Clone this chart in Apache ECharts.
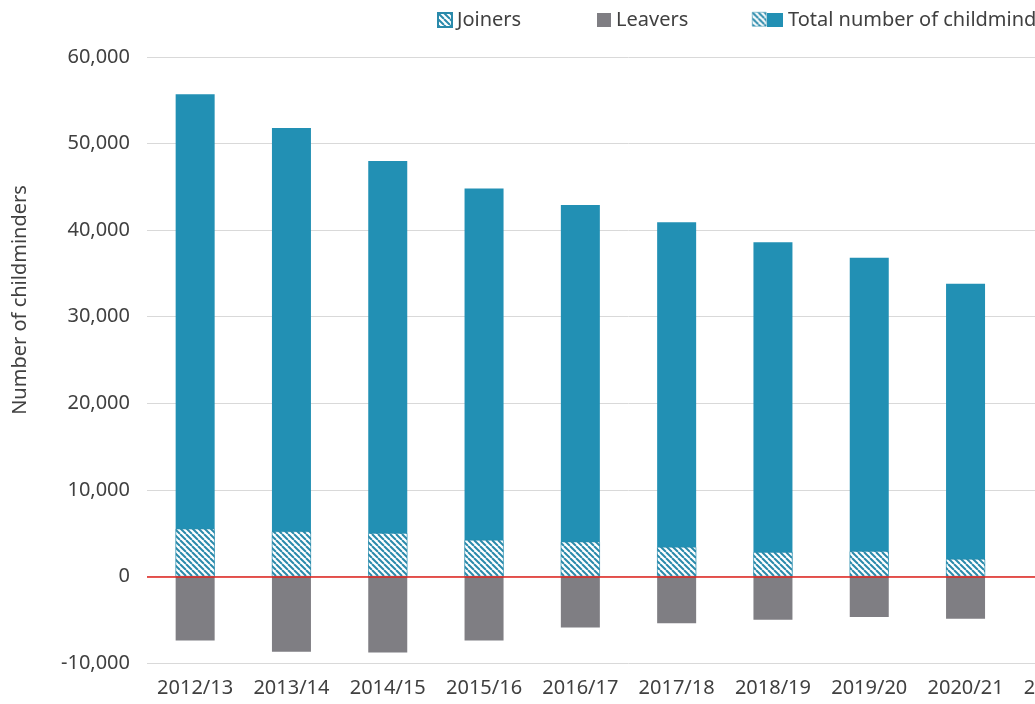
<!DOCTYPE html>
<html>
<head>
<meta charset="utf-8">
<script src="https://cdn.jsdelivr.net/npm/echarts@6/dist/echarts.min.js"></script>
<style>
  html, body { margin: 0; padding: 0; overflow: hidden; background: #fff; }
  #chart { width: 1140px; height: 704px; }
</style>
</head>
<body>
<div id="chart"></div>
<script>
// years shown on the x axis (last one is cut off by the frame)
const years = ['2012/13', '2013/14', '2014/15', '2015/16', '2016/17', '2017/18', '2018/19', '2019/20', '2020/21', '2021/22'];
const totals = [55700, 51800, 48000, 44800, 42900, 40900, 38600, 36800, 33800, null];
const joiners = [5500, 5200, 5000, 4200, 4000, 3400, 2800, 2900, 2000, null];
const leavers = [-7400, -8700, -8800, -7400, -5900, -5400, -5000, -4700, -4900, null];
const yTicks = { min: -10000, max: 60000, step: 10000 };

const blue = '#2290b4';
const grey = '#7f7e83';
const textColor = '#404040';
const font = '"Noto Sans", "DejaVu Sans", sans-serif';

// diagonal hatching for the joiners bars
function hatch() {
  const s = 6;
  const c = document.createElement('canvas');
  c.width = s; c.height = s;
  const ctx = c.getContext('2d');
  ctx.fillStyle = '#ffffff';
  ctx.fillRect(0, 0, s, s);
  ctx.strokeStyle = '#2a8aab';
  ctx.lineWidth = 2;
  for (let k = -1; k <= 1; k++) {
    ctx.beginPath();
    ctx.moveTo(k * s, 0);
    ctx.lineTo(k * s + s, s);
    ctx.stroke();
  }
  return { image: c, repeat: 'repeat' };
}
const hatchFill = hatch();

const legendText = { fontSize: 20, color: textColor, fontFamily: font };

const chart = echarts.init(document.getElementById('chart'));

chart.setOption({
  animation: false,
  textStyle: { fontFamily: font },
  grid: { left: 147, right: 30, top: 57, bottom: 41 },
  legend: [
    {
      data: ['Joiners'], left: 437, top: 10, padding: 0, icon: 'rect',
      itemWidth: 14, itemHeight: 14, itemGap: 0, textStyle: legendText
    },
    {
      data: ['Leavers'], left: 597, top: 10, padding: 0, icon: 'rect',
      itemWidth: 14, itemHeight: 14, itemGap: 0, textStyle: legendText
    },
    {
      data: ['Total number of childminders'], left: 767, top: 10, padding: 0, icon: 'rect',
      itemWidth: 16, itemHeight: 14, itemGap: 0, textStyle: legendText
    }
  ],
  graphic: [
    {
      type: 'rect', left: 752, top: 12, silent: true,
      shape: { width: 14, height: 14 },
      style: { fill: hatchFill, stroke: '#2a8aab', lineWidth: 0.5 }
    },
    {
      type: 'text', x: 20, y: 300, rotation: Math.PI / 2, silent: true,
      style: {
        text: 'Number of childminders', fill: textColor,
        font: '20px ' + font, align: 'center', verticalAlign: 'middle'
      }
    }
  ],
  xAxis: {
    type: 'category',
    data: years,
    axisLine: { show: false, onZero: false },
    axisTick: { show: false },
    axisLabel: { interval: 0, margin: 15, fontSize: 20, color: textColor, fontFamily: font }
  },
  yAxis: {
    type: 'value',
    min: yTicks.min, max: yTicks.max, interval: yTicks.step,
    axisLine: { show: false },
    axisTick: { show: false },
    splitLine: { lineStyle: { color: '#d9d9d9', width: 1 } },
    axisLabel: {
      margin: 17, fontSize: 20, color: textColor, fontFamily: font,
      formatter: v => v.toLocaleString('en-US')
    }
  },
  series: [
    {
      name: 'Total number of childminders',
      type: 'bar', data: totals, barWidth: 39, barGap: '-100%',
      itemStyle: { color: blue }
    },
    {
      name: 'Joiners',
      type: 'bar', data: joiners, barWidth: 39, barGap: '-100%',
      itemStyle: { color: hatchFill, borderColor: '#2a8aab', borderWidth: 0.5 }
    },
    {
      name: 'Leavers',
      type: 'bar', data: leavers, barWidth: 39, barGap: '-100%',
      itemStyle: { color: grey },
      markLine: {
        silent: true, symbol: 'none', label: { show: false },
        lineStyle: { color: '#e0201b', width: 1.5, type: 'solid' },
        data: [{ yAxis: 0 }]
      }
    }
  ]
});
</script>
</body>
</html>
